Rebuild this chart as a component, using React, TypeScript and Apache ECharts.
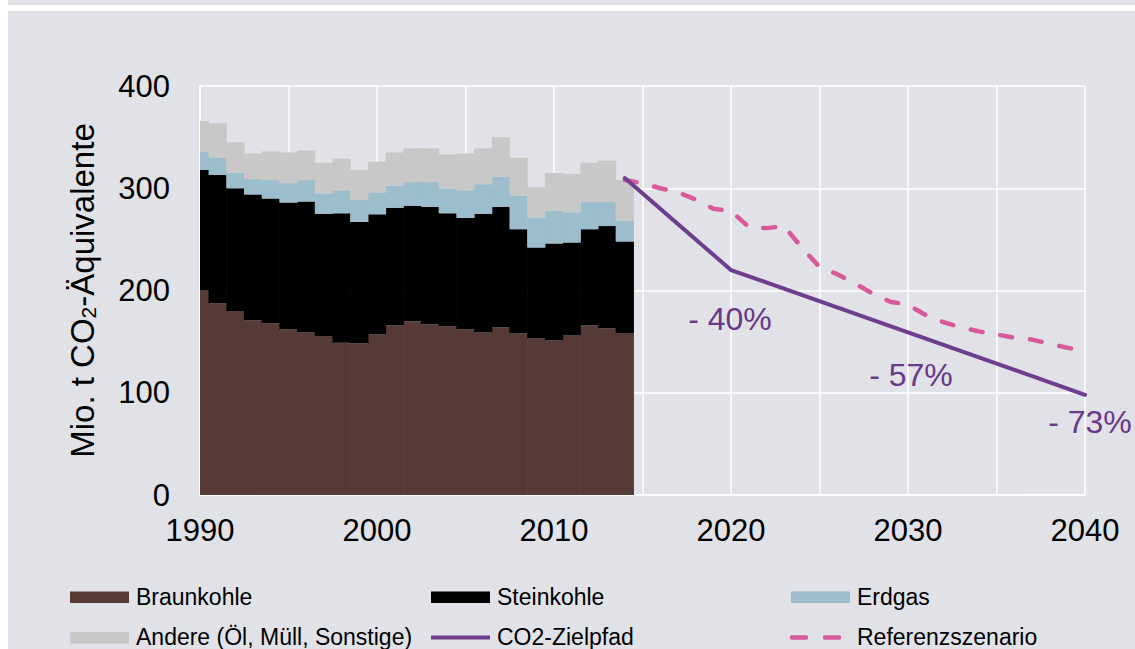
import React, { useEffect, useRef } from "react";
import * as echarts from "echarts";

// ---- data (Mio. t CO2-Äquivalente) ----
const years = [1990, 1991, 1992, 1993, 1994, 1995, 1996, 1997, 1998, 1999, 2000, 2001, 2002, 2003, 2004, 2005, 2006, 2007, 2008, 2009, 2010, 2011, 2012, 2013, 2014];
const braunkohle = [200.5, 187.5, 180, 171, 168, 162, 159, 155.5, 149, 148.5, 157, 166, 170, 167, 165, 162, 159, 164, 158, 153, 151, 156, 166, 163, 158.5];
const steinkohle = [117.5, 125.5, 120, 123, 122, 124, 128, 119.5, 126.5, 118.5, 117.5, 115, 113, 115, 110.5, 109, 116, 118, 102, 89, 95, 91, 94, 100, 89.5];
const erdgas = [17.5, 17, 15, 15, 18, 19, 21, 20, 22.5, 21.5, 21.5, 21.5, 23, 24, 24.5, 27, 29, 29, 33, 29.5, 32, 29.5, 26.5, 23.5, 20.5];
const andere = [30.5, 33.5, 30, 25, 28, 30, 29, 30, 31, 29.5, 30, 32.5, 33, 33, 33, 36, 35, 39, 37, 29.5, 37, 37.5, 38.5, 40.5, 39.5];

const refYears = [2014, 2015, 2016, 2017, 2018, 2019, 2020, 2021, 2022, 2023, 2024, 2025, 2026, 2027, 2028, 2029, 2030, 2031, 2032, 2033, 2034, 2035, 2036, 2037, 2038, 2039, 2040];
const referenz = [308, 305, 300, 296, 289, 280, 278, 262, 261, 263, 242, 223, 216, 207, 197, 189, 186, 176, 169, 164, 160, 157, 154, 152, 148, 144, 141];

const zielYears = [2014, 2020, 2030, 2040];
const zielWerte = [310, 220, 159, 98];
const zielLabels = ["", "- 40%", "- 57%", "- 73%"];

const legendNames = ["Braunkohle", "Steinkohle", "Erdgas", "Andere (Öl, Müll, Sonstige)", "CO2-Zielpfad", "Referenzszenario"];
const yAxisTitle = ["Mio. t CO", "2", "-Äquivalente"];

// ---- styles ----
const FONT = "'Liberation Sans', Arial, Helvetica, sans-serif";
const C_BRAUN = "#553A36";
const C_STEIN = "#000000";
const C_ERDGAS = "#9BBDCC";
const C_ANDERE = "#C8C8C8";
const C_ZIEL = "#6E3D8D";
const C_LABEL = "#6A3889";
const C_REF = "#D8589B";
const BG = "#E1E2E7";

const labelOffsets: number[][] = [[0, 0], [-1, 49], [3, 43], [5, 27]];

export default function App() {
  const ref = useRef<HTMLDivElement>(null);

  useEffect(() => {
    if (!ref.current) return;
    const chart = echarts.init(ref.current, undefined, { renderer: "svg" });

    // stacked step-bars (one year wide, centred on the year) drawn through the axes
    const layers = [
      { name: legendNames[0], values: braunkohle, color: C_BRAUN },
      { name: legendNames[1], values: steinkohle, color: C_STEIN },
      { name: legendNames[2], values: erdgas, color: C_ERDGAS },
      { name: legendNames[3], values: andere, color: C_ANDERE },
    ];
    const base = years.map(() => 0);
    const stackSeries = layers.map((layer, li) => {
      const data = years.map((yr, i) => {
        const lo = base[i];
        const hi = lo + layer.values[i];
        base[i] = hi;
        return [yr, lo, hi];
      });
      return {
        type: "custom",
        name: layer.name,
        data,
        encode: { x: 0, y: [1, 2] },
        clip: true,
        silent: true,
        z: 2 + li * 0.01,
        renderItem: (params: any, api: any) => {
          const x = api.value(0);
          const p0 = api.coord([x - 0.5, api.value(1)]);
          const p1 = api.coord([x + 0.5, api.value(2)]);
          return {
            type: "rect",
            shape: { x: p0[0] - 0.3, y: p1[1], width: p1[0] - p0[0] + 0.6, height: p0[1] - p1[1] },
            style: { fill: layer.color },
          };
        },
      };
    });

    const legendCols = [70, 431, 791];
    const legendRows = [597, 637.5];
    const legendGraphics: any[] = [];
    const swatch = (col: number, row: number, color: string) => ({
      type: "rect",
      shape: { x: legendCols[col], y: legendRows[row] - 5.5, width: 59, height: 11.5 },
      style: { fill: color },
      silent: true,
    });
    const legendText = (col: number, row: number, text: string) => ({
      type: "text",
      x: legendCols[col] + 66,
      y: legendRows[row] - 0.5,
      style: { text, fontSize: 23, fontFamily: FONT, fill: "#000", align: "left", verticalAlign: "middle" },
      silent: true,
    });
    legendGraphics.push(swatch(0, 0, C_BRAUN), legendText(0, 0, legendNames[0]));
    legendGraphics.push(swatch(1, 0, C_STEIN), legendText(1, 0, legendNames[1]));
    legendGraphics.push(swatch(2, 0, C_ERDGAS), legendText(2, 0, legendNames[2]));
    legendGraphics.push(swatch(0, 1, C_ANDERE), legendText(0, 1, legendNames[3]));
    legendGraphics.push(
      {
        type: "line",
        shape: { x1: legendCols[1], y1: legendRows[1], x2: legendCols[1] + 59, y2: legendRows[1] },
        style: { stroke: C_ZIEL, lineWidth: 4 },
        silent: true,
      },
      legendText(1, 1, legendNames[4])
    );
    legendGraphics.push(
      {
        type: "line",
        shape: { x1: legendCols[2] + 1, y1: legendRows[1], x2: legendCols[2] + 50, y2: legendRows[1] },
        style: { stroke: C_REF, lineWidth: 4.5, lineDash: [14, 19], lineCap: "round" },
        silent: true,
      },
      legendText(2, 1, legendNames[5])
    );

    const option: any = {
      animation: false,
      backgroundColor: "transparent",
      textStyle: { fontFamily: FONT },
      grid: { left: 200, right: 50, top: 86, bottom: 154, containLabel: false },
      xAxis: {
        type: "value",
        min: 1990,
        max: 2040,
        interval: 5,
        axisLine: { show: true, lineStyle: { color: "#FFFFFF", width: 1.5 } },
        axisTick: { show: false },
        splitLine: { show: true, lineStyle: { color: "#FFFFFF", width: 1.5 } },
        axisLabel: {
          margin: 20,
          fontSize: 31,
          color: "#000",
          fontFamily: FONT,
          formatter: (v: number) => (v % 10 === 0 ? String(v) : ""),
        },
      },
      yAxis: {
        type: "value",
        min: 0,
        max: 400,
        interval: 100,
        axisLine: { show: true, lineStyle: { color: "#FFFFFF", width: 1.5 } },
        axisTick: { show: false },
        splitLine: { show: true, lineStyle: { color: "#FFFFFF", width: 1.5 } },
        axisLabel: { margin: 30, fontSize: 31, color: "#000", fontFamily: FONT },
        name: `{n|${yAxisTitle[0]}}{s|${yAxisTitle[1]}}{n|${yAxisTitle[2]}}`,
        nameLocation: "middle",
        nameRotate: 90,
        nameGap: 101,
        nameTextStyle: {
          color: "#000",
          fontFamily: FONT,
          rich: {
            n: { fontSize: 33, lineHeight: 34, color: "#000", fontFamily: FONT },
            s: { fontSize: 21, lineHeight: 34, color: "#000", fontFamily: FONT, verticalAlign: "bottom" },
          },
        },
      },
      series: [
        ...stackSeries,
        {
          type: "line",
          name: legendNames[5],
          data: refYears.map((y, i) => [y, referenz[i]]),
          symbol: "none",
          clip: false,
          lineStyle: { color: C_REF, width: 4.5, type: [12, 18], cap: "round", join: "round" },
          emphasis: { disabled: true },
          silent: true,
          z: 3,
        },
        {
          type: "line",
          name: legendNames[4],
          data: zielYears.map((y, i) => [y, zielWerte[i]]),
          symbol: "none",
          clip: false,
          lineStyle: { color: C_ZIEL, width: 4, cap: "round", join: "round" },
          emphasis: { disabled: true },
          silent: true,
          z: 4,
        },
        {
          type: "scatter",
          name: "labels",
          data: zielYears.map((y, i) => ({
            value: [y, zielWerte[i]],
            label: {
              show: zielLabels[i] !== "",
              formatter: zielLabels[i],
              offset: labelOffsets[i],
            },
          })),
          symbolSize: 2,
          itemStyle: { color: "rgba(0,0,0,0)" },
          label: {
            show: true,
            position: [1, 1],
            align: "center",
            verticalAlign: "middle",
            fontSize: 32,
            color: C_LABEL,
            opacity: 1,
            textBorderWidth: 0,
            fontFamily: FONT,
          },
          emphasis: { disabled: true },
          silent: true,
          z: 5,
        },
      ],
      graphic: legendGraphics,
    };

    chart.setOption(option);
    return () => chart.dispose();
  }, []);

  return (
    <div style={{ position: "absolute", left: 0, top: 0, width: 1135, height: 649, background: "#FFFFFF", overflow: "hidden" }}>
      <div style={{ position: "absolute", left: 8, top: 0, width: 1127, height: 5, background: BG }} />
      <div style={{ position: "absolute", left: 8, top: 11, width: 1127, height: 638, background: BG }} />
      <div ref={ref} style={{ position: "absolute", left: 0, top: 0, width: 1135, height: 649 }} />
    </div>
  );
}
